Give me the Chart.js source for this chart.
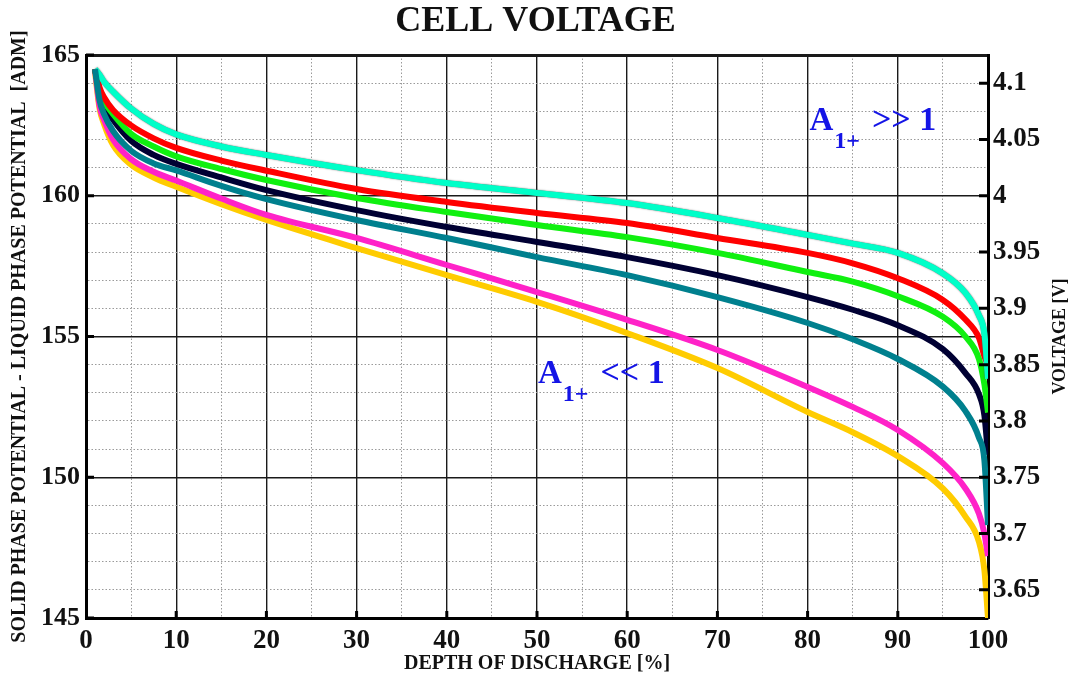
<!DOCTYPE html>
<html lang="en">
<head>
<meta charset="UTF-8">
<title>Cell voltage</title>
<style>
  html, body { margin: 0; padding: 0; background: #fff; }
  #wrap { width: 1071px; height: 676px; }
</style>
</head>
<body>
<div id="wrap"><canvas id="chart-for-voltage" width="1071" height="676"></canvas></div>
<script src="https://cdn.jsdelivr.net/npm/chart.js"></script>
<script>
// depth of discharge [%]
const dod = [1, 1.5, 2, 3, 5, 7.5, 10, 15, 20, 30, 40, 50, 60, 70, 80, 85, 90, 95, 97.5, 99, 99.6, 100];
// solid phase - liquid phase potential [ADM], one list per curve (top to bottom)
const cyanCurve    = [164.5, 164.3, 164.05, 163.7, 163.1, 162.55, 162.18, 161.75, 161.45, 160.91, 160.45, 160.1, 159.74, 159.21, 158.61, 158.3, 157.97, 157.24, 156.55, 155.75, 155.1, 153.5];
const redCurve     = [164.5, 163.85, 163.5, 163.05, 162.5, 162.04, 161.7, 161.25, 160.89, 160.24, 159.78, 159.39, 159.03, 158.5, 157.97, 157.6, 157.07, 156.3, 155.6, 154.95, 154.3, 154.0];
const greenCurve   = [164.5, 163.75, 163.35, 162.9, 162.2, 161.75, 161.4, 160.95, 160.56, 159.92, 159.42, 158.96, 158.53, 157.97, 157.29, 156.95, 156.43, 155.7, 155.0, 154.2, 153.3, 152.3];
const navyCurve    = [164.5, 163.7, 163.2, 162.7, 161.95, 161.45, 161.13, 160.65, 160.2, 159.49, 158.89, 158.36, 157.82, 157.18, 156.4, 155.95, 155.4, 154.55, 153.7, 152.95, 152.2, 150.8];
const tealCurve    = [164.5, 163.4, 162.9, 162.3, 161.6, 161.15, 160.9, 160.35, 159.88, 159.14, 158.5, 157.82, 157.18, 156.4, 155.48, 154.9, 154.2, 153.22, 152.35, 151.4, 150.6, 148.3];
const magentaCurve = [164.5, 163.2, 162.7, 162.0, 161.3, 160.85, 160.54, 159.9, 159.32, 158.5, 157.54, 156.58, 155.59, 154.52, 153.21, 152.5, 151.68, 150.5, 149.6, 148.7, 148.0, 147.2];
const goldCurve    = [164.4, 163.1, 162.55, 161.8, 161.1, 160.65, 160.32, 159.7, 159.14, 158.14, 157.18, 156.23, 155.12, 153.88, 152.32, 151.6, 150.75, 149.6, 148.6, 147.7, 146.7, 145.0];
// right axis: cell voltage [V]
const voltTicks = [3.65, 3.7, 3.75, 3.8, 3.85, 3.9, 3.95, 4, 4.05, 4.1];
const voltMin = 3.625, voltMax = 4.125;

const serif = "'Liberation Serif', 'Times New Roman', serif";
const textBlue = "#1414e6";

function toPoints(values) {
    return dod.map((x, i) => ({x: x, y: values[i]}));
}

function makeSet(values, color) {
    return {
        data: toPoints(values),
        borderColor: color,
        backgroundColor: color,
        borderWidth: 6,
        pointRadius: 0,
        cubicInterpolationMode: "monotone",
        fill: false
    };
}

// teal first so it lies on top, like in the original plot
const datasets = [
    makeSet(tealCurve, "#00808e"),
    makeSet(cyanCurve, "#00ffc8"),
    makeSet(redCurve, "#ff0000"),
    makeSet(greenCurve, "#10f010"),
    makeSet(navyCurve, "#000033"),
    makeSet(magentaCurve, "#ff22c8"),
    makeSet(goldCurve, "#ffcc00")
];

// thin grey edge round the cyan curve
const cyanEdge = {
    id: "cyanEdge",
    beforeDatasetDraw(chart, args) {
        if (args.index !== 1) return;
        chart.ctx.save();
        chart.ctx.shadowColor = "rgba(70,70,70,0.9)";
        chart.ctx.shadowBlur = 1.5;
    },
    afterDatasetDraw(chart, args) {
        if (args.index === 1) chart.ctx.restore();
    }
};

// inner tick marks, right axis title and the two A1+ labels
const extras = {
    id: "extras",
    afterDraw(chart) {
        const ctx = chart.ctx;
        const a = chart.chartArea;
        const xs = chart.scales.x, ys = chart.scales.y, vs = chart.scales.yv;
        ctx.save();
        ctx.strokeStyle = "#000";
        ctx.lineWidth = 3;
        ctx.beginPath();
        xs.ticks.forEach(t => {
            if (t.value % 10 === 0 && t.value > 0 && t.value < 100) {
                const px = xs.getPixelForValue(t.value);
                ctx.moveTo(px, a.bottom); ctx.lineTo(px, a.bottom - 7);
            }
        });
        ys.ticks.forEach(t => {
            if (t.value % 5 === 0) {
                const py = ys.getPixelForValue(t.value);
                ctx.moveTo(a.left, py); ctx.lineTo(a.left + 8, py);
            }
        });
        voltTicks.forEach(v => {
            const py = vs.getPixelForValue(v);
            ctx.moveTo(a.right, py); ctx.lineTo(a.right - 9, py);
        });
        ctx.stroke();

        // right axis title reads bottom to top
        ctx.fillStyle = "#111";
        ctx.font = "bold 18px " + serif;
        ctx.textAlign = "center";
        ctx.textBaseline = "middle";
        ctx.translate(1060, (a.top + a.bottom) / 2);
        ctx.rotate(-Math.PI / 2);
        ctx.fillText("VOLTAGE [V]", 0, 0);
        ctx.restore();

        drawLabel(ctx, xs.getPixelForValue(80.2), ys.getPixelForValue(162.34), ">> 1");
        drawLabel(ctx, xs.getPixelForValue(50.1), ys.getPixelForValue(153.35), "<< 1");
    }
};

function drawLabel(ctx, x, y, rest) {
    ctx.save();
    ctx.fillStyle = textBlue;
    ctx.textAlign = "left";
    ctx.textBaseline = "alphabetic";
    ctx.font = "bold 33px " + serif;
    ctx.fillText("A", x, y);
    let w = ctx.measureText("A").width;
    ctx.font = "bold 24px " + serif;
    ctx.fillText("1+", x + w + 1, y + 18);
    w += ctx.measureText("1+").width + 13;
    ctx.font = "bold 34px " + serif;
    ctx.fillText(rest, x + w, y);
    ctx.restore();
}

new Chart(document.getElementById("chart-for-voltage").getContext("2d"), {
    type: "line",
    data: {datasets: datasets},
    options: {
        responsive: false,
        animation: false,
        layout: {padding: 0},
        plugins: {
            legend: {display: false},
            tooltip: {enabled: false},
            title: {
                display: true,
                text: "CELL VOLTAGE",
                color: "#111",
                font: {family: serif, size: 36, weight: "bold"},
                padding: {top: 0, bottom: 11.8}
            }
        },
        scales: {
            x: {
                type: "linear",
                min: 0, max: 100,
                afterFit(s) { s.height = 58; },
                ticks: {
                    stepSize: 5, autoSkip: false, maxRotation: 0, padding: 7,
                    color: "#111",
                    font: {family: serif, size: 27, weight: "bold"},
                    callback: v => v % 10 === 0 ? v : ""
                },
                grid: {
                    drawTicks: false,
                    color: c => c.tick && c.tick.value % 10 === 0 ? "#1a1a1a" : "#9a9a9a",
                    lineWidth: c => c.tick && c.tick.value % 10 === 0 ? 1.4 : 1
                },
                border: {
                    color: "#000", width: 3,
                    dash: c => c.tick && c.tick.value % 10 !== 0 ? [1.5, 2] : []
                },
                title: {
                    display: true,
                    text: "DEPTH OF DISCHARGE [%]",
                    color: "#111",
                    font: {family: serif, size: 20, weight: "bold"},
                    padding: {top: 0, bottom: 0}
                }
            },
            y: {
                type: "linear",
                position: "left",
                min: 145, max: 165,
                afterFit(s) { s.width = 86; },
                ticks: {
                    stepSize: 1, autoSkip: false, padding: 6,
                    color: "#111",
                    font: {family: serif, size: 26, weight: "bold"},
                    callback: v => v % 5 === 0 ? v : ""
                },
                grid: {
                    drawTicks: false,
                    color: c => c.tick && c.tick.value % 5 === 0 ? "#1a1a1a" : "#9a9a9a",
                    lineWidth: c => {
                        if (!c.tick) return 1;
                        if (c.tick.value === 165) return 3;
                        return c.tick.value % 5 === 0 ? 1.4 : 1;
                    }
                },
                border: {
                    color: "#000", width: 3,
                    dash: c => c.tick && c.tick.value % 5 !== 0 ? [1.5, 2] : []
                },
                title: {
                    display: true,
                    text: "SOLID PHASE POTENTIAL - LIQUID PHASE POTENTIAL  [ADM]",
                    color: "#111",
                    font: {family: serif, size: 20, weight: "bold"},
                    padding: {top: 8, bottom: 8}
                }
            },
            yv: {
                type: "linear",
                position: "right",
                min: voltMin, max: voltMax,
                afterFit(s) { s.width = 83; },
                afterBuildTicks(s) { s.ticks = voltTicks.map(v => ({value: v})); },
                ticks: {
                    autoSkip: false, padding: 5,
                    color: "#111",
                    font: {family: serif, size: 27, weight: "bold"},
                    callback: v => String(+v.toFixed(2))
                },
                grid: {drawOnChartArea: false, drawTicks: false},
                border: {color: "#000", width: 3}
            }
        }
    },
    plugins: [cyanEdge, extras]
});
</script>
</body>
</html>
